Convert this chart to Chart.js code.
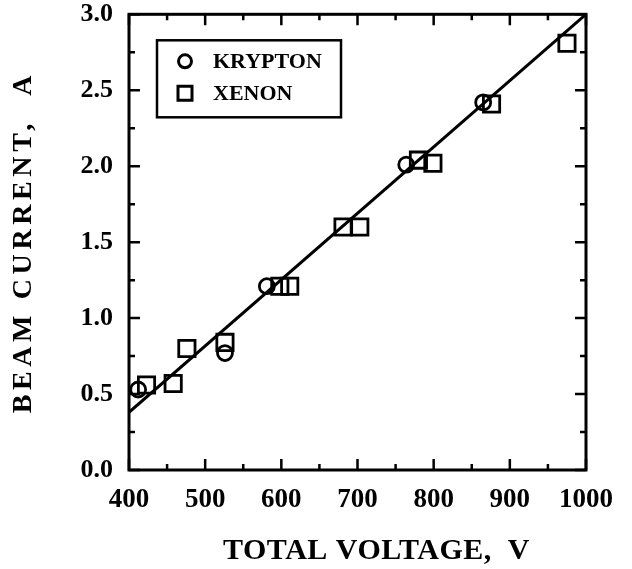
<!DOCTYPE html>
<html>
<head>
<meta charset="utf-8">
<script src="https://cdn.jsdelivr.net/npm/chart.js@4.4.0/dist/chart.umd.min.js"></script>
<style>
  html, body { margin: 0; padding: 0; background: #fff; }
  #wrap { width: 632px; height: 569px; }
</style>
</head>
<body>
<div id="wrap"><canvas id="beamChart"></canvas></div>
<script>
// values
const kryptonV = [412, 526, 581, 764, 865];
const kryptonA = [0.53, 0.77, 1.21, 2.01, 2.42];
const xenonV = [423, 458, 476, 526, 598, 611, 681, 703, 780, 799, 876, 975];
const xenonA = [0.56, 0.57, 0.80, 0.84, 1.21, 1.21, 1.60, 1.60, 2.04, 2.02, 2.41, 2.81];
const fitV = [400, 1000];
const fitA = [0.38, 3.0];
const xTickLabels = ['400', '500', '600', '700', '800', '900', '1000'];
const yTickLabels = ['0.0', '0.5', '1.0', '1.5', '2.0', '2.5', '3.0'];

function toPoints(xs, ys) {
  return xs.map((x, i) => ({ x: x, y: ys[i] }));
}

const serif = "'Liberation Serif', 'Times New Roman', serif";

// wrap a scale's title drawing so it gets its own letter spacing / nudge
function styleTitle(scale, spacing, shiftX) {
  if (scale._titleWrapped) return;
  const orig = scale.drawTitle;
  scale.drawTitle = function () {
    const ctx = this.ctx;
    ctx.save();
    ctx.letterSpacing = spacing;
    ctx.translate(shiftX, 0);
    orig.call(this);
    ctx.restore();
  };
  scale._titleWrapped = true;
}

// frame + inward ticks on all four sides, minor ticks at half steps
const framePlugin = {
  id: 'frame',
  afterDraw(chart) {
    const ctx = chart.ctx;
    const a = chart.chartArea;
    const xs = chart.scales.x, ys = chart.scales.y;
    ctx.save();
    ctx.strokeStyle = '#000';
    ctx.lineWidth = 2.5;
    for (let v = xs.min; v <= xs.max + 1e-9; v += 50) {
      const px = xs.getPixelForValue(v);
      const len = (v % 100 === 0) ? 11 : 6;
      ctx.beginPath();
      ctx.moveTo(px, a.bottom); ctx.lineTo(px, a.bottom - len);
      ctx.moveTo(px, a.top); ctx.lineTo(px, a.top + len);
      ctx.stroke();
    }
    for (let v = ys.min; v <= ys.max + 1e-9; v += 0.25) {
      const py = ys.getPixelForValue(v);
      const len = (Math.round(v * 4) % 2 === 0) ? 11 : 6;
      ctx.beginPath();
      ctx.moveTo(a.left, py); ctx.lineTo(a.left + len, py);
      ctx.moveTo(a.right, py); ctx.lineTo(a.right - len, py);
      ctx.stroke();
    }
    ctx.lineWidth = 3;
    ctx.strokeRect(a.left, a.top, a.right - a.left, a.bottom - a.top);
    ctx.restore();
  }
};

// boxed legend in the upper left of the plot
const boxLegend = {
  id: 'boxLegend',
  afterDraw(chart) {
    const ctx = chart.ctx;
    const a = chart.chartArea;
    const bx = a.left + 28, by = a.top + 26, bw = 184, bh = 77;
    ctx.save();
    ctx.strokeStyle = '#000';
    ctx.lineWidth = 2.5;
    ctx.strokeRect(bx, by, bw, bh);
    ctx.font = 'bold 22px ' + serif;
    ctx.fillStyle = '#000';
    ctx.textBaseline = 'middle';
    const rows = [chart.data.datasets[0], chart.data.datasets[1]];
    rows.forEach((ds, i) => {
      const cy = by + 21 + i * 32;
      const cx = bx + 28;
      ctx.lineWidth = 3;
      ctx.beginPath();
      if (ds.pointStyle === 'circle') {
        ctx.arc(cx, cy, 6.5, 0, Math.PI * 2);
      } else {
        ctx.rect(cx - 7, cy - 7, 14, 14);
      }
      ctx.stroke();
      ctx.fillText(ds.label, bx + 56, cy + 1);
    });
    ctx.restore();
  }
};

new Chart(document.getElementById('beamChart'), {
  type: 'scatter',
  data: {
    datasets: [
      {
        label: 'KRYPTON',
        data: toPoints(kryptonV, kryptonA),
        pointStyle: 'circle',
        pointRadius: 7.5,
        pointBorderWidth: 2.8,
        borderColor: '#000',
        backgroundColor: 'rgba(0,0,0,0)'
      },
      {
        label: 'XENON',
        data: toPoints(xenonV, xenonA),
        pointStyle: 'rect',
        pointRadius: 11.5,
        pointBorderWidth: 2.8,
        borderColor: '#000',
        backgroundColor: 'rgba(0,0,0,0)'
      },
      {
        label: 'fit',
        data: toPoints(fitV, fitA),
        showLine: true,
        pointRadius: 0,
        borderWidth: 3,
        borderColor: '#000'
      }
    ]
  },
  options: {
    responsive: true,
    maintainAspectRatio: false,
    animation: false,
    layout: { padding: { top: 0, right: 46, left: 0, bottom: 0 } },
    plugins: {
      legend: { display: false },
      tooltip: { enabled: false }
    },
    scales: {
      x: {
        type: 'linear',
        min: 400,
        max: 1000,
        afterFit(scale) {
          scale.height = 99;
          styleTitle(scale, '0.5px', 19);
        },
        grid: { display: false, drawTicks: false },
        border: { display: false },
        ticks: {
          stepSize: 100,
          padding: 14,
          maxRotation: 0,
          color: '#000',
          font: { family: serif, size: 27, weight: 'bold' },
          callback: (v, i) => xTickLabels[i]
        },
        title: {
          display: true,
          text: 'TOTAL VOLTAGE,  V',
          color: '#000',
          padding: { top: 0, bottom: 0 },
          font: { family: serif, size: 30, weight: 'bold' }
        }
      },
      y: {
        type: 'linear',
        min: 0,
        max: 3,
        afterFit(scale) {
          scale.width = 129;
          scale.paddingTop = 14;
          scale.paddingBottom = 0;
          styleTitle(scale, '4.6px', 0);
        },
        grid: { display: false, drawTicks: false },
        border: { display: false },
        ticks: {
          stepSize: 0.5,
          padding: 16,
          color: '#000',
          font: { family: serif, size: 26, weight: 'bold' },
          callback: (v, i) => yTickLabels[i]
        },
        title: {
          display: true,
          text: 'BEAM CURRENT,  A',
          color: '#000',
          padding: { top: 7, bottom: 0 },
          font: { family: serif, size: 28, weight: 'bold' }
        }
      }
    }
  },
  plugins: [framePlugin, boxLegend]
});
</script>
</body>
</html>
